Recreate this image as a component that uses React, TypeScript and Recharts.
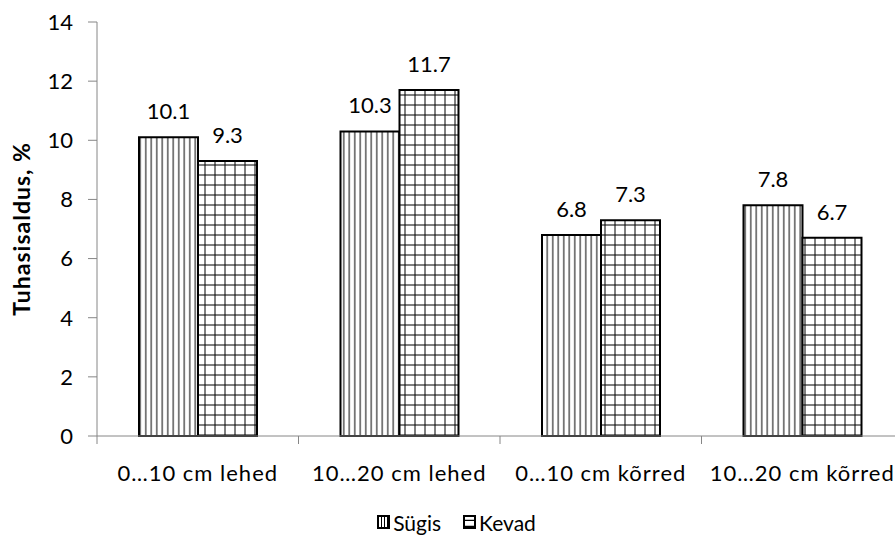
import React from 'react';
import { BarChart, Bar, XAxis, YAxis, LabelList } from 'recharts';

const categories = ['0…10 cm lehed', '10…20 cm lehed', '0…10 cm kõrred', '10…20 cm kõrred'];
const sygis = [10.1, 10.3, 6.8, 7.8];
const kevad = [9.3, 11.7, 7.3, 6.7];
const yTicks = [0, 2, 4, 6, 8, 10, 12, 14];

const CHART_W = 905;
const CHART_H = 540;
const X_AXIS_H = 104;
const MARGIN = { top: 22, right: 2, bottom: 0, left: 0 };
const Y_AXIS_W = 97;
const BAND = (CHART_W - MARGIN.left - MARGIN.right - Y_AXIS_W) / categories.length;

const FONT = 'Lato, "Open Sans", sans-serif';
const FONT_SIZE = 22;
const AXIS_GREY = '#868686';

const data = categories.map((name, i) => ({ name, sygis: sygis[i], kevad: kevad[i] }));

// category ticks sit on the band boundaries, like the classic spreadsheet chart
const CategoryTick = (props: any) => {
  const { x, y, payload, index } = props;
  const left = x - BAND / 2;
  return (
    <g>
      <line x1={left} y1={y - 8} x2={left} y2={y} stroke={AXIS_GREY} strokeWidth={1} />
      {index === categories.length - 1 && (
        <line x1={left + BAND} y1={y - 8} x2={left + BAND} y2={y} stroke={AXIS_GREY} strokeWidth={1} />
      )}
      <text
        x={x}
        y={y + 37}
        textAnchor="middle"
        fill="#000"
        fontSize={FONT_SIZE}
        fontFamily={FONT}
        letterSpacing={1}
      >
        {payload.value}
      </text>
    </g>
  );
};

const LegendIcon = ({ fill }: { fill: string }) => (
  <svg width={13} height={14} style={{ marginRight: 3 }}>
    <rect x={1} y={1} width={11} height={12} fill={fill} stroke="#000" strokeWidth={2} />
  </svg>
);

const LegendBox = () => (
  <div
    style={{
      position: 'absolute',
      top: 507,
      left: 0,
      width: 895,
      height: 30,
      display: 'flex',
      justifyContent: 'center',
      alignItems: 'center',
      fontFamily: FONT,
      fontSize: 21,
      color: '#000',
      paddingLeft: 18,
      boxSizing: 'border-box',
    }}
  >
    <span style={{ display: 'flex', alignItems: 'center', marginRight: 22 }}>
      <LegendIcon fill="url(#legendVert)" />
      Sügis
    </span>
    <span style={{ display: 'flex', alignItems: 'center' }}>
      <LegendIcon fill="url(#legendGrid)" />
      Kevad
    </span>
  </div>
);

export default function App() {
  return (
    <div
      style={{
        position: 'fixed',
        top: 0,
        left: 0,
        width: 895,
        height: 540,
        overflow: 'hidden',
        background: '#fff',
      }}
    >
      <svg width={0} height={0} style={{ position: 'absolute' }}>
        <defs>
          <pattern id="legendVert" patternUnits="userSpaceOnUse" width={3} height={3}>
            <rect width={3} height={3} fill="#fff" />
            <line x1={1.5} y1={0} x2={1.5} y2={3} stroke="#000" strokeWidth={1} />
          </pattern>
          <pattern id="legendGrid" patternUnits="userSpaceOnUse" width={6} height={6}>
            <rect width={6} height={6} fill="#fff" />
            <line x1={0} y1={5.5} x2={6} y2={5.5} stroke="#000" strokeWidth={1.5} />
          </pattern>
        </defs>
      </svg>
      <BarChart width={CHART_W} height={CHART_H} data={data} margin={MARGIN} barCategoryGap={42} barGap={0}>
        <defs>
          <pattern id="vertHatch" patternUnits="userSpaceOnUse" width={5.5} height={10}>
            <rect width={5.5} height={10} fill="#fff" />
            <line x1={2.75} y1={0} x2={2.75} y2={10} stroke="#000" strokeWidth={1} />
          </pattern>
          <pattern id="gridHatch" patternUnits="userSpaceOnUse" width={10} height={10}>
            <rect width={10} height={10} fill="#fff" />
            <line x1={5} y1={0} x2={5} y2={10} stroke="#000" strokeWidth={1} />
            <line x1={0} y1={5} x2={10} y2={5} stroke="#000" strokeWidth={1} />
          </pattern>
        </defs>
        <XAxis
          dataKey="name"
          axisLine={{ stroke: AXIS_GREY }}
          tickLine={false}
          tick={<CategoryTick />}
          interval={0}
          height={X_AXIS_H}
        />
        <YAxis
          domain={[0, 14]}
          ticks={yTicks}
          width={Y_AXIS_W}
          axisLine={{ stroke: AXIS_GREY }}
          tickLine={{ stroke: AXIS_GREY }}
          tickSize={9}
          tickMargin={15}
          tick={{ fill: '#000', fontSize: FONT_SIZE, fontFamily: FONT }}
          label={{
            value: 'Tuhasisaldus, %',
            angle: -90,
            position: 'insideLeft',
            offset: 22,
            style: {
              textAnchor: 'middle',
              fontWeight: 'bold',
              fontSize: 23,
              letterSpacing: 1,
              fill: '#000',
              fontFamily: FONT,
            },
          }}
        />
        <Bar dataKey="sygis" fill="url(#vertHatch)" stroke="#000" strokeWidth={2} isAnimationActive={false}>
          <LabelList dataKey="sygis" position="top" offset={18} fill="#000" fontSize={FONT_SIZE} fontFamily={FONT} />
        </Bar>
        <Bar dataKey="kevad" fill="url(#gridHatch)" stroke="#000" strokeWidth={2} isAnimationActive={false}>
          <LabelList dataKey="kevad" position="top" offset={18} fill="#000" fontSize={FONT_SIZE} fontFamily={FONT} />
        </Bar>
      </BarChart>
      <LegendBox />
    </div>
  );
}
